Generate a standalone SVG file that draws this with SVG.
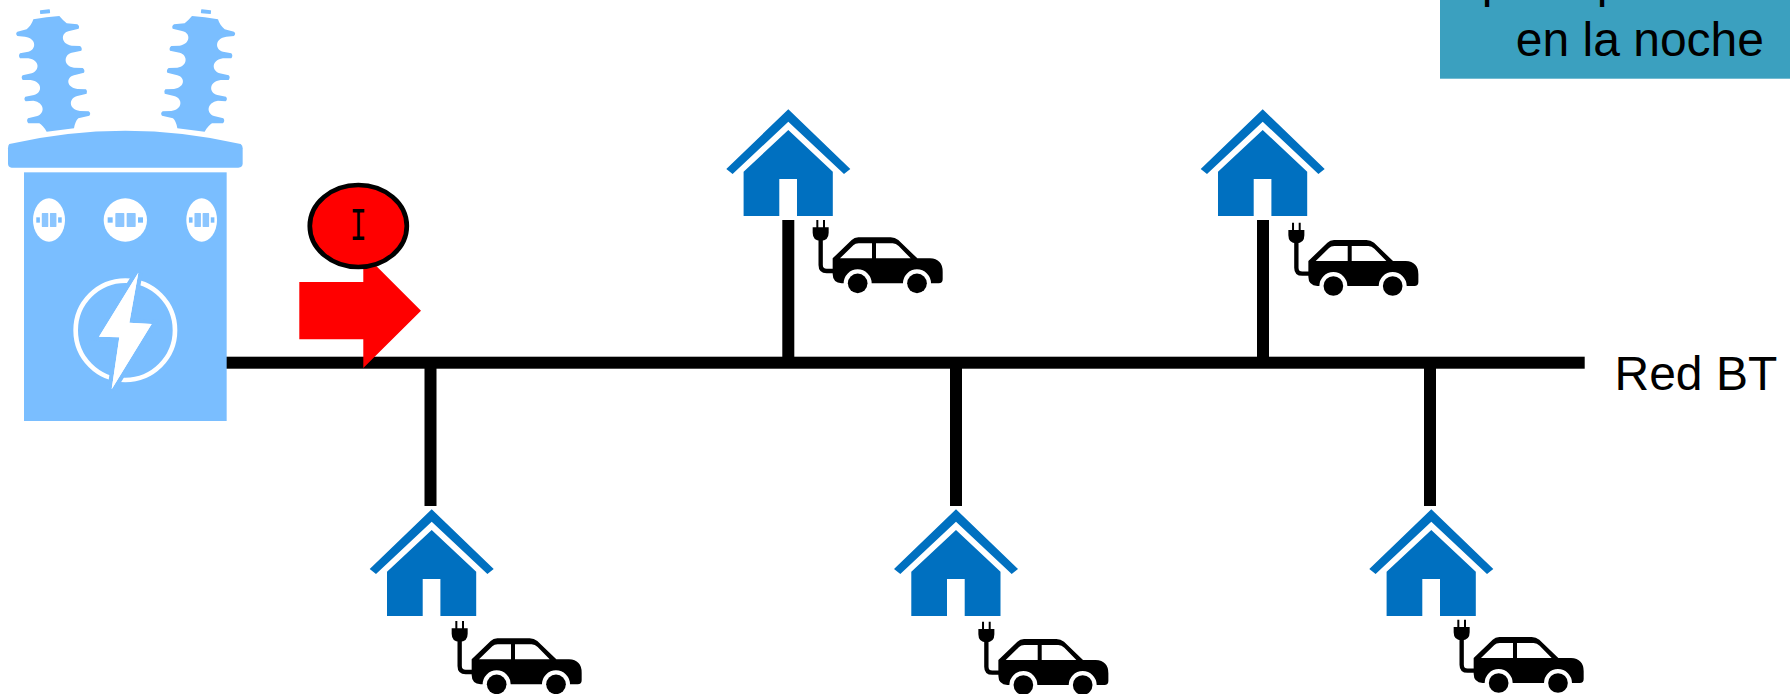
<svg xmlns="http://www.w3.org/2000/svg" xmlns:xlink="http://www.w3.org/1999/xlink" width="1790" height="694" viewBox="0 0 1790 694">
<style>
.t{font-family:"Liberation Sans",Arial,sans-serif;font-size:48px;fill:#000}
.tb{fill:#7abeff}
.w{fill:#fff}
.wire{fill:#000}
</style>
<defs>
<g id="house">
<path fill="#0070c0" d="M0,0L62,59.7L55.7,64.7L0,12.4L-55.7,64.7L-62,59.7Z"/>
<path fill="#0070c0" d="M0,20.7L44.5,62.4V106.7H8.7V69.7H-9V106.7H-44.7V62.4Z"/>
</g>
<g id="car" transform="scale(0.33333)">
<path fill="#000" fill-rule="evenodd" d="M398,505L455,450Q463,442 475,442L572,442Q585,442 595,450L652,505L690,505Q728,507 728,545L728,568Q728,580 716,580L693,580A42,42 0 0 0 609,580L515,580A42,42 0 0 0 431,580L425,580Q398,578 398,552ZM420,505L516,505L516,460L476,460Q466,460 460,466ZM528,460L528,505L632,505L596,468Q588,460 578,460Z"/>
<circle cx="473" cy="580" r="29.500"/>
<circle cx="651" cy="580" r="29.500"/>
<path fill="none" stroke="#000" stroke-width="13" d="M362,445V525Q362,543 380,543H400"/>
<path fill="#000" d="M349,390H355V412H369V390H375V412H386V428Q386,452 362,452Q338,452 338,428V412H349Z"/>
</g>
<g id="meter">
<rect x="-53" y="-8" width="15" height="16" class="tb"/>
<rect x="38" y="-8" width="15" height="16" class="tb"/>
<rect x="-30" y="-21" width="27" height="42" rx="2" fill="#8cc6ff"/>
<rect x="4" y="-21" width="27" height="42" rx="2" fill="#8cc6ff"/>
</g>
<path id="ins" d="M100,58Q140,50 178,48Q188,60 200,70L232,73Q240,78 236,86L205,94C182,100 182,132 215,137L240,138Q248,144 244,152L215,158C190,165 190,198 222,203L248,204Q256,210 252,218L222,226C198,232 198,262 232,267L258,268Q264,274 260,281L232,288C205,295 205,328 240,333L266,334Q274,340 268,347L235,355Q225,365 222,385L140,395Q128,375 118,370L85,370Q78,362 84,355L112,348C135,340 135,308 100,302L77,304Q70,297 76,290L102,285C128,278 128,245 92,240L68,240Q62,232 68,226L95,220C120,212 120,180 85,175L60,175Q54,167 60,160L85,155C110,148 110,115 75,110L52,108Q45,100 52,95L80,88Q95,75 100,58Z"/>
</defs>

<g id="note">
<rect x="1440" y="0" width="350" height="78.700" fill="#3ba0bf"/>
<text class="t" x="1481.800" y="-3">p</text>
<text class="t" x="1596.800" y="-3">p</text>
<text class="t" x="1515.800" y="56">en la noche</text>
</g>

<g id="connectors">
<rect class="wire" x="225" y="356.700" width="1359.700" height="12"/>
<rect class="wire" x="782.300" y="220" width="12" height="137"/>
<rect class="wire" x="1257" y="220" width="12" height="137"/>
<rect class="wire" x="424.500" y="368" width="12" height="138"/>
<rect class="wire" x="950" y="368" width="12" height="138"/>
<rect class="wire" x="1424" y="368" width="12" height="138"/>
</g>

<g id="transformer">
<g transform="scale(0.33333)">
<use href="#ins" class="tb"/>
<use href="#ins" class="tb" transform="translate(754,0) scale(-1,1)"/>
<rect x="120" y="29" width="30" height="12" rx="2" class="tb" transform="rotate(-6 135 35)"/>
<rect x="603" y="29" width="30" height="12" rx="2" class="tb" transform="rotate(6 618 35)"/>
<path class="tb" d="M28,432Q200,392 376,392Q550,392 722,432Q728,436 728,445L728,490Q728,503 715,503L35,503Q24,503 24,490L24,445Q24,436 28,432Z"/>
<rect x="72" y="517" width="608" height="746" class="tb"/>
<ellipse cx="147" cy="660" rx="48" ry="65" class="w"/>
<ellipse cx="376" cy="660" rx="65" ry="65" class="w"/>
<ellipse cx="605" cy="660" rx="46" ry="65" class="w"/>
<use href="#meter" transform="translate(147,660) scale(0.72,1)"/>
<use href="#meter" transform="translate(376,660)"/>
<use href="#meter" transform="translate(605,660) scale(0.72,1)"/>
<circle cx="376" cy="991" r="149" fill="none" stroke="#fff" stroke-width="14"/>
<path d="M415,818L388,968L455,972L335,1168L358,1012L297,1010Z" class="w" stroke="#7abeff" stroke-width="26" paint-order="stroke"/>
<path d="M415,818L388,968L455,972L335,1168L358,1012L297,1010Z" class="w"/>
</g>
</g>

<g id="current">
<path fill="#f00" d="M299.300,282H363.300V253L421,310.700L363.300,368V339.300H299.300Z"/>
<ellipse cx="358.300" cy="226" rx="48.500" ry="41" fill="#f00" stroke="#000" stroke-width="4.700"/>
<text transform="translate(358.300,240) scale(0.62,1)" text-anchor="middle" font-family="'Liberation Mono','Courier New',monospace" font-size="46" fill="#000">I</text>
</g>

<g id="house1"><use href="#house" x="788.300" y="109.300"/><use href="#car" transform="translate(700,90)"/></g>
<g id="house2"><use href="#house" x="1262.700" y="109.300"/><use href="#car" transform="translate(1175.700,92.700)"/></g>
<g id="house3"><use href="#house" x="431.700" y="509.300"/><use href="#car" transform="translate(339,491)"/></g>
<g id="house4"><use href="#house" x="956" y="509.300"/><use href="#car" transform="translate(865.700,491.700)"/></g>
<g id="house5"><use href="#house" x="1431.300" y="509.300"/><use href="#car" transform="translate(1341,489.700)"/></g>

<g id="label"><text class="t" x="1614.500" y="390">Red BT</text></g>
</svg>
